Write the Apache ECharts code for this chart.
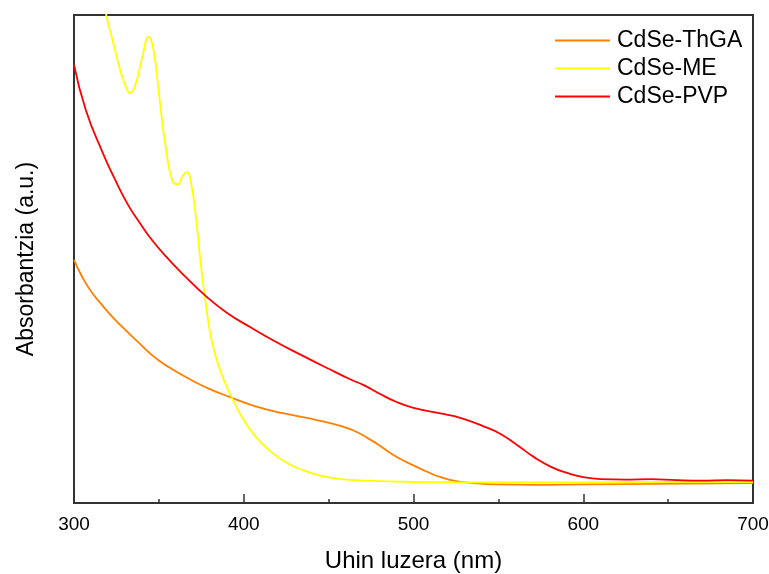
<!DOCTYPE html>
<html>
<head>
<meta charset="utf-8">
<script src="https://cdn.jsdelivr.net/npm/echarts@6/dist/echarts.min.js"></script>
<style>
html, body { margin: 0; padding: 0; background: #fff; }
#chart { width: 769px; height: 574px; }
</style>
</head>
<body>
<div id="chart"></div>
<script>
// wavelength (nm) / absorbance (a.u., 0..100 = plot height)
var thgaX = [300, 305, 310, 316, 323, 331, 338, 344, 350, 356, 368, 379, 392, 407, 423, 443, 457, 465, 473, 480, 487, 494, 500, 508, 516, 525, 535, 550, 571, 600, 640, 700];
var thgaY = [49.8, 46.2, 43.4, 40.8, 38.0, 35.2, 32.9, 30.9, 29.2, 27.8, 25.4, 23.5, 21.7, 19.8, 18.4, 17, 15.8, 14.8, 13.3, 11.8, 10.1, 8.7, 7.7, 6.4, 5.3, 4.5, 4.1, 3.8, 3.7, 3.8, 3.9, 4.1];

var meX = [300, 310, 319, 323, 327, 330, 333, 336, 340, 344, 347, 350, 354, 358, 361, 364, 366.5, 369, 372, 375, 378, 381, 385, 390, 395, 400, 407, 415, 425, 435, 445, 455, 470, 500, 550, 600, 650, 700];
var meY = [135, 116, 100, 94.5, 89, 85.8, 84, 85.5, 91, 95.5, 92.5, 84, 73, 66, 65.3, 67, 67.8, 65.5, 58, 48, 40, 33.5, 28.3, 23.8, 20.2, 17, 13.6, 10.8, 8.3, 6.7, 5.6, 5.0, 4.6, 4.3, 4.2, 4.2, 4.3, 4.3];

var pvpX = [300, 307, 317, 324, 332, 338, 345, 354, 365, 378, 390, 404, 418, 434, 450, 463, 471, 480, 490, 500, 515, 528, 542, 551, 561, 571, 581, 591, 600, 610, 625, 640, 655, 670, 685, 700];
var pvpY = [89.8, 80.5, 71.7, 66.4, 61, 57.8, 54.3, 50.6, 46.6, 42.3, 39, 36, 33.2, 30.3, 27.5, 25.3, 24.1, 22.4, 20.7, 19.5, 18.4, 17.4, 15.6, 14.2, 11.9, 9.4, 7.4, 6.1, 5.3, 4.9, 4.8, 4.9, 4.7, 4.6, 4.7, 4.6];

var xTicks = [300, 400, 500, 600, 700];
var names = ['CdSe-ThGA', 'CdSe-ME', 'CdSe-PVP'];
var colors = ['#ff8000', '#ffff00', '#ff0000'];

function pairs(xs, ys) {
	var out = [];
	for (var i = 0; i < xs.length; i++) {
		out.push([xs[i], ys[i]]);
	}
	return out;
}

var chart = echarts.init(document.getElementById('chart'));

var axisColor = '#333';
var font = 'Liberation Sans, Arial, sans-serif';

var option = {
	animation: false,
	color: colors,
	grid: {
		left: 74, right: 16, top: 15, bottom: 71,
		outerBoundsMode: 'none',
		show: true, borderColor: axisColor, borderWidth: 2, backgroundColor: '#fff'
	},
	legend: {
		orient: 'vertical',
		left: 550, top: 24,
		itemWidth: 55, itemHeight: 2, itemGap: 5,
		icon: 'rect',
		textStyle: { fontFamily: font, fontSize: 23, color: '#000', padding: [0, 0, 0, 2] },
		data: names
	},
	xAxis: {
		type: 'value',
		min: 300, max: 700, interval: 100,
		name: 'Uhin luzera (nm)',
		nameLocation: 'middle', nameGap: 46,
		nameTextStyle: { fontFamily: font, fontSize: 24, color: '#000' },
		axisLine: { show: true, lineStyle: { color: axisColor, width: 2 } },
		axisTick: { inside: true, length: 9, lineStyle: { color: axisColor, width: 1.5 } },
		minorTick: { show: true, splitNumber: 2, length: 4, lineStyle: { color: axisColor, width: 1.5 } },
		axisLabel: {
			fontFamily: font, fontSize: 19, color: '#000', margin: 12,
			formatter: function (v) { return xTicks.indexOf(v) >= 0 ? String(v) : ''; }
		},
		splitLine: { show: false }
	},
	yAxis: {
		type: 'value',
		min: 0, max: 100,
		name: 'Absorbantzia (a.u.)',
		nameLocation: 'middle', nameGap: 36, nameRotate: 90,
		nameTextStyle: { fontFamily: font, fontSize: 23, color: '#000' },
		axisLine: { show: true, lineStyle: { color: axisColor, width: 2 } },
		axisTick: { show: false },
		axisLabel: { show: false },
		splitLine: { show: false }
	},
	series: [
		{ name: names[0], type: 'line', data: pairs(thgaX, thgaY) },
		{ name: names[1], type: 'line', data: pairs(meX, meY) },
		{ name: names[2], type: 'line', data: pairs(pvpX, pvpY) }
	].map(function (s) {
		s.showSymbol = false;
		s.smooth = 0.5;
		s.clip = true;
		s.lineStyle = { width: 1.8 };
		return s;
	})
};

chart.setOption(option);
</script>
</body>
</html>
